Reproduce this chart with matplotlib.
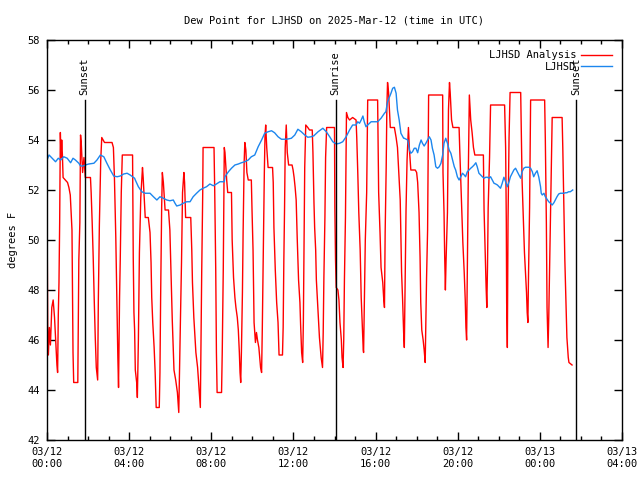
import numpy as np
import matplotlib
matplotlib.use("Agg")
import matplotlib.pyplot as plt

# minutes after 2025-03-12 00:00 UTC
red_min = [0, 1, 2, 4, 7, 10, 14, 18, 22, 26, 29, 31, 33, 35, 37, 39, 41, 43, 45, 47,
           60, 64, 68, 73, 76, 78, 90, 91, 93, 96, 98, 100, 104, 108, 112, 127, 129, 132,
           135, 138, 141, 144, 148, 150, 153, 157, 160, 168, 190, 194, 197, 201, 204, 207,
           209, 212, 214, 217, 220, 250, 252, 254, 256,
           258, 262, 264, 267, 270, 274, 279, 281, 287, 296, 301, 304, 306, 309, 313, 316,
           319, 328, 330, 332, 335, 337, 340, 345, 355, 359, 362, 366, 371, 376, 381, 385,
           387, 390, 393, 396, 400, 402, 405, 420, 423, 425, 429, 435, 440, 448, 450, 452,
           455, 456, 488, 490, 493, 495, 497, 510, 512, 515, 518,
           520, 525, 528, 539, 541, 545, 549, 552, 556, 559, 562, 564, 566, 568, 571, 573,
           576, 578, 581, 584, 588, 597, 599, 602, 605, 609, 612, 615, 619, 624, 627, 629,
           632, 635, 637, 639, 642, 646, 659, 661, 663, 667, 671, 675, 678, 688, 690, 692,
           694, 696, 699, 702, 706, 716, 719, 722, 725, 728, 731, 735, 739, 741, 744, 747,
           749, 751, 753, 756, 762, 767, 775, 777, 780,
           782, 785, 787, 792, 796, 801, 805, 807, 809, 812, 814, 817, 840, 841, 843, 845,
           850, 853, 856, 860, 862, 865, 867, 869, 872, 875, 879, 884, 893, 903, 905, 908,
           911, 915, 918, 921, 924, 925, 927, 930, 934, 937, 966, 969, 973, 976, 981, 984,
           986, 988, 991, 993, 995, 998, 1003, 1015, 1020, 1024, 1032, 1036, 1039, 1042,
           1044, 1047, 1049, 1052, 1056, 1059, 1063, 1076, 1080, 1083, 1087, 1090, 1092,
           1095, 1099, 1102, 1105, 1107, 1109, 1112, 1115, 1156, 1157, 1160, 1162, 1164,
           1166, 1170, 1173, 1176, 1178, 1182, 1186, 1204, 1206, 1209, 1212, 1215, 1219,
           1222, 1224, 1226, 1228, 1231, 1234, 1238, 1242, 1246, 1250, 1275, 1277, 1280,
           1283, 1285, 1287, 1289, 1293, 1296,
           1337, 1340, 1342, 1343, 1345, 1347, 1350, 1353, 1384, 1386, 1388, 1391, 1395,
           1398, 1401, 1403, 1405, 1407, 1410, 1413, 1454, 1456, 1459, 1461, 1464, 1466,
           1469, 1473, 1476, 1505, 1507, 1510, 1513, 1516, 1519, 1523, 1525, 1534]
red_val = [51.5, 49.0, 46.6, 45.4, 46.5, 45.8, 47.3, 47.6, 46.9, 45.8, 45.0, 44.7, 47.0, 48.3,
           50.7, 54.3, 53.3, 54.0, 53.4, 52.5, 52.3, 52.1, 51.8, 50.4, 45.5, 44.3, 44.3, 45.9,
           49.2, 50.7, 54.2, 53.9, 52.7, 53.3, 52.5, 52.5, 51.9, 50.7, 49.3, 47.6, 46.1, 44.9,
           44.4, 47.6, 50.6, 53.2, 54.1, 53.9, 53.9, 53.7, 52.5, 50.1, 47.7, 45.3, 44.1, 47.7,
           49.2, 51.9, 53.4, 53.4, 49.3, 47.1, 46.4,
           44.8, 44.3, 43.7, 46.0, 49.5, 51.7, 52.9, 52.5, 50.9, 50.9, 50.3, 49.1, 47.7, 46.7,
           45.7, 44.7, 43.3, 43.3, 44.7, 47.7, 51.3, 52.7, 52.3, 51.2, 51.2, 50.4, 48.9, 46.8,
           44.8, 44.4, 43.9, 43.1, 44.7, 46.9, 49.1, 51.9, 52.7, 52.3, 50.9, 50.9, 49.6, 48.3,
           46.9, 45.5, 44.9, 43.3, 46.0, 48.7, 51.9, 53.7, 53.7, 52.0, 48.8, 45.5, 43.9, 43.9,
           45.5, 48.8, 53.7,
           53.5, 52.4, 51.9, 51.9, 50.0, 48.5, 47.7, 47.3, 46.9, 46.4, 45.5, 44.7, 44.3, 45.5,
           47.9, 50.3, 53.1, 53.9, 53.6, 52.7, 52.4, 52.4, 51.2, 49.6, 46.7, 45.9, 46.3, 46.0,
           45.7, 44.9, 44.7, 46.4, 49.7, 52.7, 54.2, 54.6, 53.7, 52.9, 52.9, 52.3, 50.5, 48.8,
           47.5, 46.7, 45.4, 45.4, 46.5, 49.2, 51.2, 53.7, 54.6, 53.5, 53.0, 53.0, 52.8, 52.5,
           52.1, 51.6, 50.1, 48.4, 47.5, 46.6, 45.5, 45.1, 46.7, 49.7, 52.9, 54.6, 54.5, 54.4,
           54.4, 53.5, 51.5,
           50.5, 49.6, 48.4, 47.1, 46.1, 45.3, 44.9, 46.3, 48.5, 50.9, 53.3, 54.5, 54.5, 51.3,
           49.2, 48.1, 48.0, 47.6, 46.7, 46.0, 45.3, 44.9, 46.0, 48.4, 50.9, 55.1, 54.9, 54.8,
           54.9, 54.8, 54.1, 52.7, 51.1, 49.6, 47.7, 46.7, 45.6, 45.5, 47.3, 50.0, 51.9, 55.6,
           55.6, 51.9, 50.3, 48.9, 48.3, 47.6, 47.3, 50.3, 52.9, 55.3, 56.3, 55.9, 54.5, 54.5,
           54.1, 53.7, 51.6, 48.7, 47.6, 46.3,
           45.7, 48.9, 51.2, 53.2, 54.5, 53.6, 52.8, 52.8, 52.7, 52.3, 51.1, 49.3, 47.5, 46.4,
           46.0, 45.6, 45.1, 46.7, 48.5, 50.4, 55.8, 55.8, 52.7, 51.1, 49.3, 48.0, 49.2, 51.1,
           55.2, 56.3, 55.9, 54.8, 54.5, 54.5, 53.6, 52.4, 51.1, 49.9, 48.7, 47.6, 46.5, 46.0,
           48.7, 52.7, 55.8, 54.8, 54.3, 53.7, 53.4, 53.4, 51.2, 49.6, 48.1, 47.3, 48.9, 51.3,
           53.3, 55.4,
           55.4, 53.7, 50.7, 47.5, 45.7, 50.8, 54.1, 55.9, 55.9, 54.1, 52.4, 51.1, 49.5, 48.7,
           47.9, 47.1, 46.7, 48.7, 51.3, 55.6, 55.6, 54.0, 50.7, 47.3, 45.7, 46.9, 49.3, 52.4,
           54.9, 54.9, 53.7, 51.5, 49.2, 47.7, 46.1, 45.3, 45.1, 45.0]

blue_min = [0, 6, 15, 25, 33, 40, 49, 59, 69, 76, 83, 93, 98, 105, 112, 122, 137, 146, 156,
            166, 175, 185, 195, 205, 214, 224, 234, 243, 256,
            258, 267, 277, 287, 301, 311, 321, 330, 340, 350, 359, 369, 374, 379, 389, 398,
            408, 418, 427, 437, 447, 456, 466, 476, 486, 495, 505, 518,
            520, 530, 539, 549, 559, 568, 578, 588, 597, 607, 617, 627, 636, 646, 656, 665,
            675, 685, 694, 704, 714, 724, 733, 743, 753, 762, 772, 780,
            782, 792, 806, 816, 826, 835, 845, 855, 864, 874, 884, 893, 903, 908, 913, 918,
            923, 927, 932, 937, 947, 956, 966, 976, 986, 990, 995, 1005, 1010, 1015, 1020,
            1024, 1029, 1034, 1042,
            1044, 1054, 1059, 1063, 1068, 1073, 1078, 1083, 1088, 1093, 1097, 1102, 1107,
            1112, 1117, 1122, 1126, 1131, 1136, 1141, 1146, 1151, 1156, 1160, 1165, 1170,
            1175, 1180, 1185, 1190, 1194, 1199, 1204, 1209, 1214, 1219, 1223, 1228, 1233,
            1238, 1243, 1248, 1253, 1257, 1262, 1267, 1272, 1277, 1282, 1287, 1291, 1296,
            1301, 1306,
            1311, 1316, 1321, 1325, 1330, 1335, 1340, 1345, 1350, 1354, 1359, 1364, 1369,
            1374, 1379, 1384, 1388, 1393, 1398, 1408, 1413, 1418, 1422, 1427, 1432, 1437,
            1442, 1444, 1447, 1452, 1456, 1461, 1466, 1471, 1476, 1481, 1485, 1490, 1495,
            1500, 1510, 1515, 1519, 1524, 1529, 1536]
blue_val = [53.2, 53.4, 53.27, 53.13, 53.27, 53.2, 53.33, 53.27, 53.09, 53.27, 53.2, 53.07,
            52.96, 52.96, 53.0, 53.04, 53.07, 53.2, 53.4, 53.33, 53.07, 52.8, 52.56, 52.53,
            52.56, 52.64, 52.67, 52.6, 52.47,
            52.4, 52.13, 51.93, 51.87, 51.87, 51.73, 51.6, 51.73, 51.67, 51.6, 51.57, 51.6,
            51.47, 51.36, 51.4, 51.47, 51.53, 51.53, 51.73, 51.87, 52.0, 52.07, 52.13, 52.24,
            52.17, 52.24, 52.33, 52.33,
            52.53, 52.73, 52.87, 53.0, 53.04, 53.09, 53.13, 53.2, 53.33, 53.4, 53.73, 54.0,
            54.27, 54.33, 54.37, 54.29, 54.13, 54.03, 54.03, 54.04, 54.07, 54.2, 54.43, 54.33,
            54.2, 54.11, 54.13, 54.17,
            54.2, 54.33, 54.47, 54.33, 54.13, 53.93, 53.84, 53.87, 53.93, 54.13, 54.4, 54.6,
            54.6, 54.73, 54.67, 54.8, 54.96, 54.73, 54.53, 54.6, 54.73, 54.73, 54.73, 54.87,
            55.07, 55.13, 55.53, 55.87, 56.07, 56.11, 55.87, 55.2, 54.8, 54.27, 54.07,
            54.07, 54.0, 53.6, 53.47, 53.53, 53.67, 53.67, 53.49, 53.8, 54.0, 53.87, 53.76,
            53.87, 54.0, 54.13, 54.0, 53.67, 53.4, 52.93, 52.87, 52.93, 53.07, 53.4, 53.87,
            54.07, 53.87, 53.6, 53.47, 53.2, 52.93, 52.8, 52.53, 52.4, 52.53, 52.67, 52.6,
            52.53, 52.73, 52.8, 52.87, 52.93, 53.0, 53.09, 52.93, 52.67, 52.6, 52.53, 52.47,
            52.51, 52.51, 52.47, 52.53, 52.4, 52.27,
            52.24, 52.2, 52.13, 52.07, 52.27, 52.51, 52.33, 52.13, 52.33, 52.53, 52.67, 52.8,
            52.87, 52.73, 52.6, 52.47, 52.73, 52.87, 52.91, 52.91, 52.87, 52.73, 52.53, 52.67,
            52.77, 52.51, 52.13, 51.87, 51.8, 51.87, 51.73, 51.63, 51.53, 51.47, 51.4, 51.49,
            51.6, 51.73, 51.84, 51.87, 51.87, 51.89, 51.89, 51.93, 51.93, 52.0]

sun_min = [110, 843, 1545]
sun_lbl = ["Sunset", "Sunrise", "Sunset"]

tick_hours = [0, 4, 8, 12, 16, 20, 24, 28]
tick_lbls = ["03/12\n00:00", "03/12\n04:00", "03/12\n08:00", "03/12\n12:00",
             "03/12\n16:00", "03/12\n20:00", "03/13\n00:00", "03/13\n04:00"]

plt.rcParams['font.family'] = ['DejaVu Sans Mono']
fs = 7.5

fig = plt.figure(figsize=(6.4, 4.8), dpi=100)
ax = fig.add_axes([47 / 640, 40 / 480, 575 / 640, 400 / 480])

ax.plot(np.array(red_min) / 60, red_val, color='#ff0000', lw=1, label='LJHSD Analysis')
ax.plot(np.array(blue_min) / 60, blue_val, color='#1c86ee', lw=1, label='LJHSD')

for m, lbl in zip(sun_min, sun_lbl):
    ax.plot([m / 60, m / 60], [42, 55.6], color='black', lw=1)
    ax.text(m / 60, 55.8, lbl, rotation=90, ha='center', va='bottom', fontsize=fs)

ax.set_xlim(0, 28)
ax.set_ylim(42, 58)
ax.set_xticks(tick_hours)
ax.set_xticklabels(tick_lbls)
ax.set_xticks(np.arange(0, 29, 1), minor=True)
ax.set_yticks(np.arange(42, 59, 2))
ax.tick_params(which='both', direction='in', top=True, right=True, labelsize=fs, width=1)
ax.tick_params(which='major', length=6, pad=5)
ax.tick_params(which='minor', length=3)
for s in ax.spines.values():
    s.set_linewidth(1)

ax.set_title('Dew Point for LJHSD on 2025-Mar-12 (time in UTC)', fontsize=fs, pad=12)
ax.set_ylabel('degrees F', fontsize=fs, labelpad=7)

ax.legend(loc='upper right', frameon=False, fontsize=fs, markerfirst=False,
          handlelength=2.9, borderaxespad=0.6, labelspacing=0.15, handletextpad=0.5)

fig.savefig('out.png', dpi=100)
